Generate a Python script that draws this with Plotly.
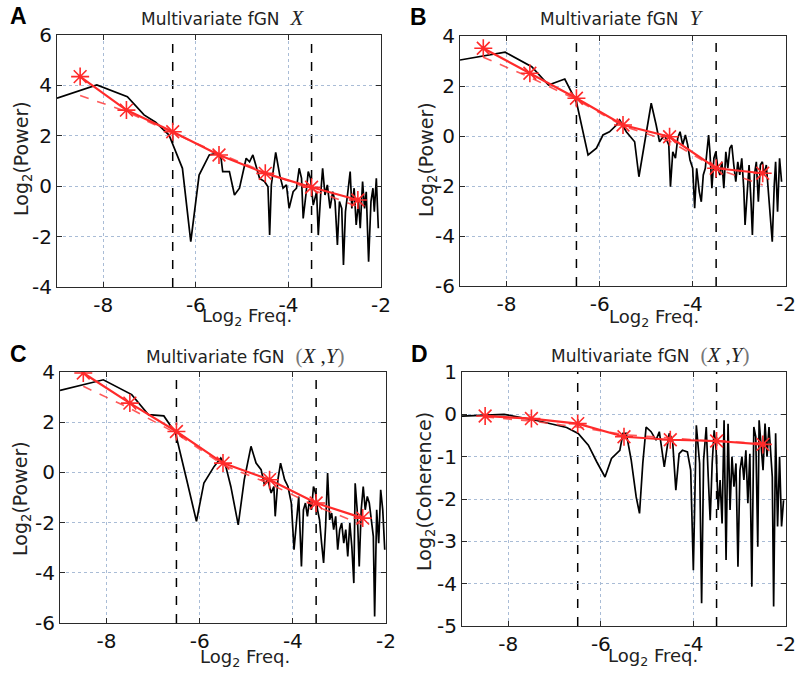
import plotly.graph_objects as go

# ---------------- data ----------------
oct_x = [-8.5, -7.5, -6.5, -5.5, -4.5, -3.5, -2.5]
x_ticks = [-8, -6, -4, -2]
x_tick_text = ["-8", "-6", "-4", "-2"]
band_lines = [-6.5, -3.5]

# Panel A: Multivariate fGN X
A_x = [-9.0, -8.14, -7.48, -7.12, -6.87, -6.58, -6.29, -6.11, -5.93, -5.71,
       -5.565, -5.456, -5.42, -5.275, -5.166, -5.058, -4.913, -4.84, -4.768, -4.623,
       -4.514, -4.442, -4.406, -4.369, -4.275, -4.188, -4.116, -4.043, -3.985, -3.898,
       -3.826, -3.768, -3.717, -3.681, -3.623, -3.572, -3.522, -3.464, -3.391, -3.355,
       -3.304, -3.261, -3.21, -3.159, -3.101, -3.043, -2.993, -2.942, -2.898, -2.848,
       -2.811, -2.768, -2.724, -2.666, -2.63, -2.58, -2.536, -2.485, -2.449, -2.398,
       -2.355, -2.319, -2.268, -2.217, -2.174, -2.145, -2.101, -2.058]
A_y = [3.49, 4.02, 3.55, 2.83, 2.54, 2.03, 0.71, -2.2, 0.44, 1.24,
       1.30, 1.11, 0.58, 0.58, -0.35, -0.08, 1.11, 0.97, 1.24, 0.31,
       0.18, -0.02, -1.94, 0.05, 1.34, 0.44, -0.08, 0.05, -0.88, -0.22,
       -0.08, 0.71, 0.31, -1.28, -0.35, 0.58, 0.31, -0.75, -0.22, -1.94,
       -0.35, 0.71, -0.35, 0.05, -0.88, -0.22, -0.61, -2.33, -0.61, -0.88,
       -3.13, -1.01, -0.35, 0.58, -0.88, -0.08, -1.54, -0.61, -1.67, 0.18,
       -0.88, -0.22, -3.0, -0.61, -0.08, -1.01, 0.31, -1.67]
A_fit = [4.35, 3.02, 2.16, 1.24, 0.51, -0.04, -0.55]
A_fit2 = [3.6, 2.96, 2.12, 1.3, 0.55, -0.12, -0.81]

# Panel B: Multivariate fGN Y
B_x = [-9.0, -8.03, -7.46, -7.10, -6.75, -6.50, -6.25, -6.07, -5.93, -5.79,
       -5.64, -5.571, -5.429, -5.322, -5.25, -5.158, -5.037, -4.894, -4.788, -4.716,
       -4.609, -4.517, -4.481, -4.431, -4.374, -4.325, -4.275, -4.218, -4.161, -4.111,
       -4.061, -4.004, -3.961, -3.918, -3.862, -3.819, -3.776, -3.733, -3.705, -3.662,
       -3.634, -3.591, -3.548, -3.506, -3.463, -3.42, -3.377, -3.335, -3.292, -3.249,
       -3.206, -3.164, -3.121, -3.078, -3.035, -2.993, -2.95, -2.907, -2.879, -2.836,
       -2.793, -2.751, -2.722, -2.679, -2.637, -2.594, -2.551, -2.508, -2.466, -2.423,
       -2.38, -2.337, -2.295, -2.252, -2.223, -2.181, -2.138, -2.095]
B_y = [3.04, 3.35, 2.77, 2.04, 2.28, 1.37, -0.76, -0.49, 0.04, 0.17,
       0.44, 0.64, 0.17, -0.09, -0.23, -1.63, -0.23, 1.31, 0.44, -0.23,
       0.04, -0.36, -2.03, -0.63, -0.89, -0.09, 0.17, -0.36, 0.04, -0.36,
       -0.96, -1.29, -2.89, -1.29, -2.23, -2.63, -1.56, -1.29, -0.76, 0.04,
       -0.63, -2.09, -0.89, -0.63, -1.29, -1.56, -1.03, -2.09, -0.63, -1.29,
       -0.49, -0.36, -1.16, -1.83, -1.03, -1.56, -0.89, -2.09, -3.56, -2.23,
       -1.16, -2.63, -3.96, -1.56, -1.03, -2.63, -1.16, -1.03, -1.56, -1.16,
       -2.23, -3.16, -4.23, -1.96, -1.03, -3.03, -0.89, -1.83]
B_fit = [3.51, 2.51, 1.51, 0.44, -0.03, -1.29, -1.49]
B_fit2 = [3.15, 2.35, 1.45, 0.4, -0.2, -1.3, -1.96]

# Panel C: Multivariate fGN (X,Y)
C_x = [-9.0, -8.07, -7.46, -7.10, -6.77, -6.52, -6.28, -6.07, -5.91, -5.69,
       -5.548, -5.44, -5.332, -5.173, -5.043, -4.899, -4.79, -4.682, -4.61, -4.538,
       -4.466, -4.408, -4.379, -4.321, -4.264, -4.177, -4.105, -4.033, -3.975, -3.917,
       -3.874, -3.816, -3.773, -3.73, -3.687, -3.643, -3.6, -3.557, -3.513, -3.47,
       -3.427, -3.383, -3.34, -3.297, -3.254, -3.21, -3.167, -3.124, -3.081, -3.037,
       -2.994, -2.951, -2.907, -2.864, -2.821, -2.777, -2.734, -2.691, -2.662, -2.619,
       -2.575, -2.532, -2.489, -2.446, -2.402, -2.359, -2.316, -2.272, -2.244, -2.2,
       -2.157, -2.114, -2.07, -2.027]
C_y = [3.27, 3.69, 3.10, 2.30, 2.25, 1.57, -0.29, -1.95, -0.42, 0.24,
       0.57, 0.24, -0.56, -2.09, -0.29, 1.04, 0.37, 0.11, -0.49, -0.29,
       -0.82, -0.56, -1.75, -0.29, 0.37, -0.29, -0.56, -1.22, -3.08, -1.75,
       -0.96, -3.75, -1.49, -1.22, -1.75, -1.09, -1.49, -0.56, -0.82, -1.49,
       -1.89, -2.82, -3.61, -2.15, -0.03, -1.89, -1.62, -2.28, -1.75, -3.08,
       -2.28, -2.02, -2.82, -2.28, -3.35, -2.02, -2.95, -4.41, -0.43, -1.49,
       -3.75, -1.49, -0.56, -1.49, -0.96, -1.22, -2.02, -2.55, -5.74, -1.49,
       -2.82, -0.69, -1.49, -3.08]
C_fit = [3.96, 2.76, 1.63, 0.37, -0.29, -1.22, -1.82]
C_fit2 = [3.43, 2.55, 1.55, 0.3, -0.45, -1.35, -2.08]

# Panel D: Multivariate fGN coherence (X,Y)
D_x = [-9.0, -8.09, -7.41, -7.05, -6.74, -6.49, -6.27, -6.09, -5.91, -5.77,
       -5.59, -5.522, -5.451, -5.344, -5.237, -5.165, -5.094, -5.022, -4.915, -4.808,
       -4.737, -4.63, -4.523, -4.451, -4.38, -4.309, -4.237, -4.13, -4.059, -4.002,
       -3.937, -3.866, -3.823, -3.78, -3.723, -3.68, -3.638, -3.595, -3.552, -3.509,
       -3.466, -3.424, -3.381, -3.338, -3.295, -3.252, -3.209, -3.167, -3.124, -3.081,
       -3.038, -2.995, -2.952, -2.91, -2.867, -2.824, -2.781, -2.738, -2.695, -2.653,
       -2.61, -2.581, -2.539, -2.496, -2.453, -2.41, -2.367, -2.324, -2.296, -2.267,
       -2.224, -2.182, -2.139, -2.096, -2.053]
D_y = [-0.04, 0.0, -0.14, -0.23, -0.31, -0.45, -0.73, -1.12, -1.48, -1.04,
       -0.85, -0.45, -0.45, -1.08, -1.95, -2.34, -1.16, -0.30, -0.41, -0.61,
       -0.41, -1.24, -0.45, -0.61, -1.79, -0.93, -0.85, -0.89, -1.32, -3.68,
       -0.26, -1.16, -4.46, -1.08, -0.30, -1.48, -2.50, -1.16, -0.38, -0.85,
       -2.26, -1.55, -2.58, -0.14, -3.44, -0.22, -2.26, -1.00, -1.71, -1.16,
       -3.60, -1.32, -1.00, -1.55, -0.85, -2.10, -0.93, -4.07, -0.30, -0.53,
       -3.13, -0.14, -0.69, -1.32, -0.22, -1.00, -0.30, -0.93, -1.48, -4.54,
       -0.45, -2.65, -1.00, -2.65, -2.03]
D_fit = [-0.04, -0.10, -0.22, -0.53, -0.60, -0.63, -0.71]
D_fit2 = [-0.06, -0.16, -0.30, -0.48, -0.56, -0.64, -0.68]

# ---------------- figure ----------------
W, H = 800, 680
def px(v):
    return v / W
def py(v):
    return 1 - v / H

SERIF = 'font-family:Liberation Serif;font-size:21px'
XY = ('<span style="' + SERIF + ';color:#777">(</span><span style="' + SERIF +
      '"><i>X</i> ,<i>Y</i></span><span style="' + SERIF + ';color:#777">)</span>')

panels = [
    dict(letter="A", x=A_x, y=A_y, fit=A_fit, fit2=A_fit2, yr=[-4, 6], yt=[-4, -2, 0, 2, 4, 6],
         dom=(57, 381, 35, 287), ytitle="Log<sub>2</sub>(Power)",
         title='Multivariate fGN  <span style="' + SERIF + '"><i>X</i></span>',
         letter_pos=(18, 16), title_pos=(222, 18), xt_pos=(247, 317), yt_pos=(22, 159)),
    dict(letter="B", x=B_x, y=B_y, fit=B_fit, fit2=B_fit2, yr=[-6, 4], yt=[-6, -4, -2, 0, 2, 4],
         dom=(460, 786, 36, 286), ytitle="Log<sub>2</sub>(Power)",
         title='Multivariate fGN  <span style="' + SERIF + '"><i>Y</i></span>',
         letter_pos=(418, 17), title_pos=(621, 18), xt_pos=(654, 318), yt_pos=(427, 159)),
    dict(letter="C", x=C_x, y=C_y, fit=C_fit, fit2=C_fit2, yr=[-6, 4], yt=[-6, -4, -2, 0, 2, 4],
         dom=(60, 386, 372, 623), ytitle="Log<sub>2</sub>(Power)",
         title='Multivariate fGN  ' + XY,
         letter_pos=(18, 354), title_pos=(245, 356), xt_pos=(245, 658), yt_pos=(22, 499)),
    dict(letter="D", x=D_x, y=D_y, fit=D_fit, fit2=D_fit2, yr=[-5, 1], yt=[-5, -4, -3, -2, -1, 0, 1],
         dom=(462, 786, 372, 626), ytitle="Log<sub>2</sub>(Coherence)",
         title='Multivariate fGN  ' + XY,
         letter_pos=(419, 354), title_pos=(650, 355), xt_pos=(653, 657), yt_pos=(425, 492)),
]

FONT = "DejaVu Sans"
RED = "#ff2a2a"
fig = go.Figure()
layout = dict(width=W, height=H, margin=dict(l=0, r=0, t=0, b=0, autoexpand=False),
              paper_bgcolor="white", plot_bgcolor="white", showlegend=False,
              font=dict(family=FONT, color="#111"))
annotations = []
shapes = []

axis_common = dict(showgrid=True, gridcolor="#a9bcd6", griddash="dot", gridwidth=1,
                   zeroline=False, showline=True, linecolor="#2a2a2a", linewidth=1,
                   mirror="ticks", ticks="inside", ticklen=5, tickcolor="#2a2a2a",
                   automargin=False, ticklabeloverflow="allow",
                   tickfont=dict(family=FONT, size=20, color="#111"))

for i, p in enumerate(panels):
    n = "" if i == 0 else str(i + 1)
    xa, ya = "x" + n, "y" + n
    l, r, t, b = p["dom"]
    layout["xaxis" + n] = dict(axis_common, domain=[px(l), px(r)], range=[-9, -2],
                               tickvals=x_ticks, ticktext=x_tick_text, anchor=ya)
    layout["yaxis" + n] = dict(axis_common, domain=[py(b), py(t)], range=p["yr"],
                               tickvals=p["yt"], ticktext=[str(v) for v in p["yt"]], anchor=xa)
    fig.add_trace(go.Scatter(x=p["x"], y=p["y"], mode="lines", xaxis=xa, yaxis=ya,
                             line=dict(color="black", width=1.7), cliponaxis=True))
    fig.add_trace(go.Scatter(x=oct_x, y=p["fit2"], mode="lines", xaxis=xa, yaxis=ya,
                             line=dict(color="rgba(255,60,60,0.85)", width=1.6, dash="dash")))
    fig.add_trace(go.Scatter(x=oct_x, y=p["fit"], mode="lines+markers", xaxis=xa, yaxis=ya,
                             line=dict(color=RED, width=2.2),
                             marker=dict(symbol="asterisk-open", size=15, color=RED,
                                         line=dict(color=RED, width=1.6))))
    for bx in band_lines:
        shapes.append(dict(type="line", xref=xa, yref=ya + " domain", x0=bx, x1=bx, y0=0, y1=1,
                           line=dict(color="black", width=1.5, dash="dash"), layer="below"))
    annotations += [
        dict(text="<b>" + p["letter"] + "</b>", x=px(p["letter_pos"][0]), y=py(p["letter_pos"][1]),
             xref="paper", yref="paper", showarrow=False, xanchor="center", yanchor="middle",
             font=dict(family="Liberation Sans", size=23, color="black")),
        dict(text=p["title"], x=px(p["title_pos"][0]), y=py(p["title_pos"][1]),
             xref="paper", yref="paper", showarrow=False, xanchor="center", yanchor="middle",
             font=dict(family=FONT, size=17, color="#222")),
        dict(text="Log<sub>2</sub> Freq.", x=px(p["xt_pos"][0]), y=py(p["xt_pos"][1]),
             xref="paper", yref="paper", showarrow=False, xanchor="center", yanchor="middle",
             font=dict(family=FONT, size=18, color="#222")),
        dict(text=p["ytitle"], x=px(p["yt_pos"][0]), y=py(p["yt_pos"][1]), textangle=-90,
             xref="paper", yref="paper", showarrow=False, xanchor="center", yanchor="middle",
             font=dict(family=FONT, size=19, color="#222")),
    ]

layout["annotations"] = annotations
layout["shapes"] = shapes
fig.update_layout(**layout)
fig.write_html("out.html", config={"displayModeBar": False},
               post_script="document.body.style.margin='0';document.body.style.overflow='hidden';")
